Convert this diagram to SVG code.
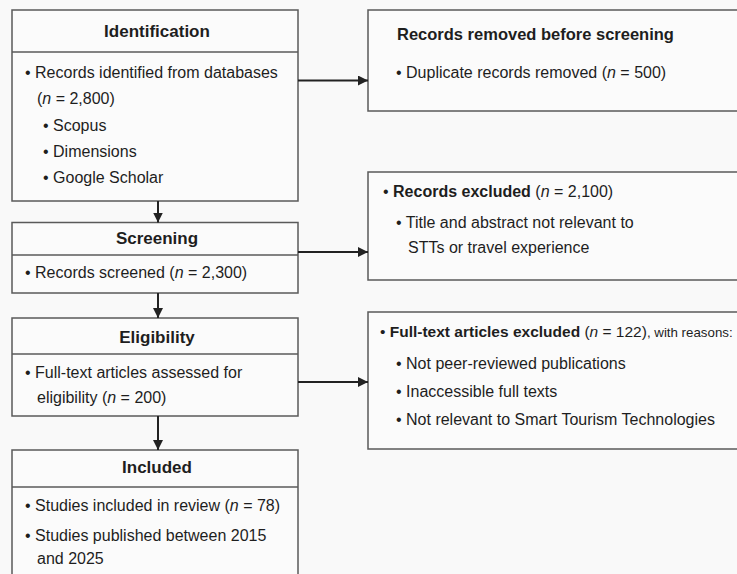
<svg xmlns="http://www.w3.org/2000/svg" width="737" height="574" viewBox="0 0 737 574">
<defs>
<marker id="ah" markerWidth="10" markerHeight="10" refX="10" refY="5" orient="auto" markerUnits="userSpaceOnUse">
<path d="M0,0 L10,5 L0,10 Z" fill="#222"/>
</marker>
<style>
.box{fill:#fbfbfb;stroke:#5a5a5a;stroke-width:1.5}
.div{stroke:#5a5a5a;stroke-width:1.5}
.t{font-family:"Liberation Sans",Arial,sans-serif;font-size:16px;fill:#1e1e1e}
.h{font-family:"Liberation Sans",Arial,sans-serif;font-size:17px;font-weight:bold;fill:#1e1e1e}
.b{font-weight:bold}
.i{font-style:italic}
.s{font-size:13.3px}
.c{stroke:#222;stroke-width:2;fill:none;marker-end:url(#ah)}
</style>
</defs>
<rect width="737" height="574" fill="#f9f9f9"/>
<g id="identification">
<rect class="box" x="12" y="10" width="286" height="191"/>
<line class="div" x1="12" y1="52" x2="298" y2="52"/>
<text class="h" x="157" y="37" text-anchor="middle">Identification</text>
<text class="t" x="25" y="78">• Records identified from databases</text>
<text class="t" x="37" y="104">(<tspan class="i">n</tspan> = 2,800)</text>
<text class="t" x="43" y="131">• Scopus</text>
<text class="t" x="43" y="157">• Dimensions</text>
<text class="t" x="43" y="183">• Google Scholar</text>
</g>
<g id="screening">
<rect class="box" x="12" y="222.5" width="286" height="70.5"/>
<line class="div" x1="12" y1="255" x2="298" y2="255"/>
<text class="h" x="157" y="244" text-anchor="middle">Screening</text>
<text class="t" x="25" y="278">• Records screened (<tspan class="i">n</tspan> = 2,300)</text>
</g>
<g id="eligibility">
<rect class="box" x="12" y="318" width="286" height="98"/>
<line class="div" x1="12" y1="354" x2="298" y2="354"/>
<text class="h" x="157" y="343" text-anchor="middle">Eligibility</text>
<text class="t" x="25" y="378">• Full-text articles assessed for</text>
<text class="t" x="37" y="403">eligibility (<tspan class="i">n</tspan> = 200)</text>
</g>
<g id="included">
<rect class="box" x="12" y="450" width="286" height="140"/>
<line class="div" x1="12" y1="487" x2="298" y2="487"/>
<text class="h" x="157" y="473" text-anchor="middle">Included</text>
<text class="t" x="25" y="511">• Studies included in review (<tspan class="i">n</tspan> = 78)</text>
<text class="t" x="25" y="541">• Studies published between 2015</text>
<text class="t" x="37" y="564">and 2025</text>
</g>
<g id="removed">
<rect class="box" x="368" y="10" width="380" height="101"/>
<text class="h" x="397" y="40" style="font-size:16.5px">Records removed before screening</text>
<text class="t" x="396" y="78">• Duplicate records removed (<tspan class="i">n</tspan> = 500)</text>
</g>
<g id="excluded">
<rect class="box" x="368" y="172" width="380" height="108"/>
<text class="t" x="383" y="197">• <tspan class="b">Records excluded</tspan> (<tspan class="i">n</tspan> = 2,100)</text>
<text class="t" x="396" y="228">• Title and abstract not relevant to</text>
<text class="t" x="408" y="253">STTs or travel experience</text>
</g>
<g id="fulltext-excluded">
<rect class="box" x="368" y="312" width="380" height="137"/>
<text class="t" x="380" y="337" style="font-size:15.5px">• <tspan class="b">Full-text articles excluded</tspan> (<tspan class="i">n</tspan> = 122)<tspan class="s">, with reasons:</tspan></text>
<text class="t" x="396" y="369">• Not peer-reviewed publications</text>
<text class="t" x="396" y="397">• Inaccessible full texts</text>
<text class="t" x="396" y="425">• Not relevant to Smart Tourism Technologies</text>
</g>
<g id="connectors">
<line class="c" x1="298" y1="80.5" x2="368" y2="80.5"/>
<line class="c" x1="298" y1="252" x2="368" y2="252"/>
<line class="c" x1="298" y1="382" x2="368" y2="382"/>
<line class="c" x1="158" y1="201" x2="158" y2="222.5"/>
<line class="c" x1="158" y1="293" x2="158" y2="318"/>
<line class="c" x1="158" y1="416" x2="158" y2="450"/>
</g>
</svg>
